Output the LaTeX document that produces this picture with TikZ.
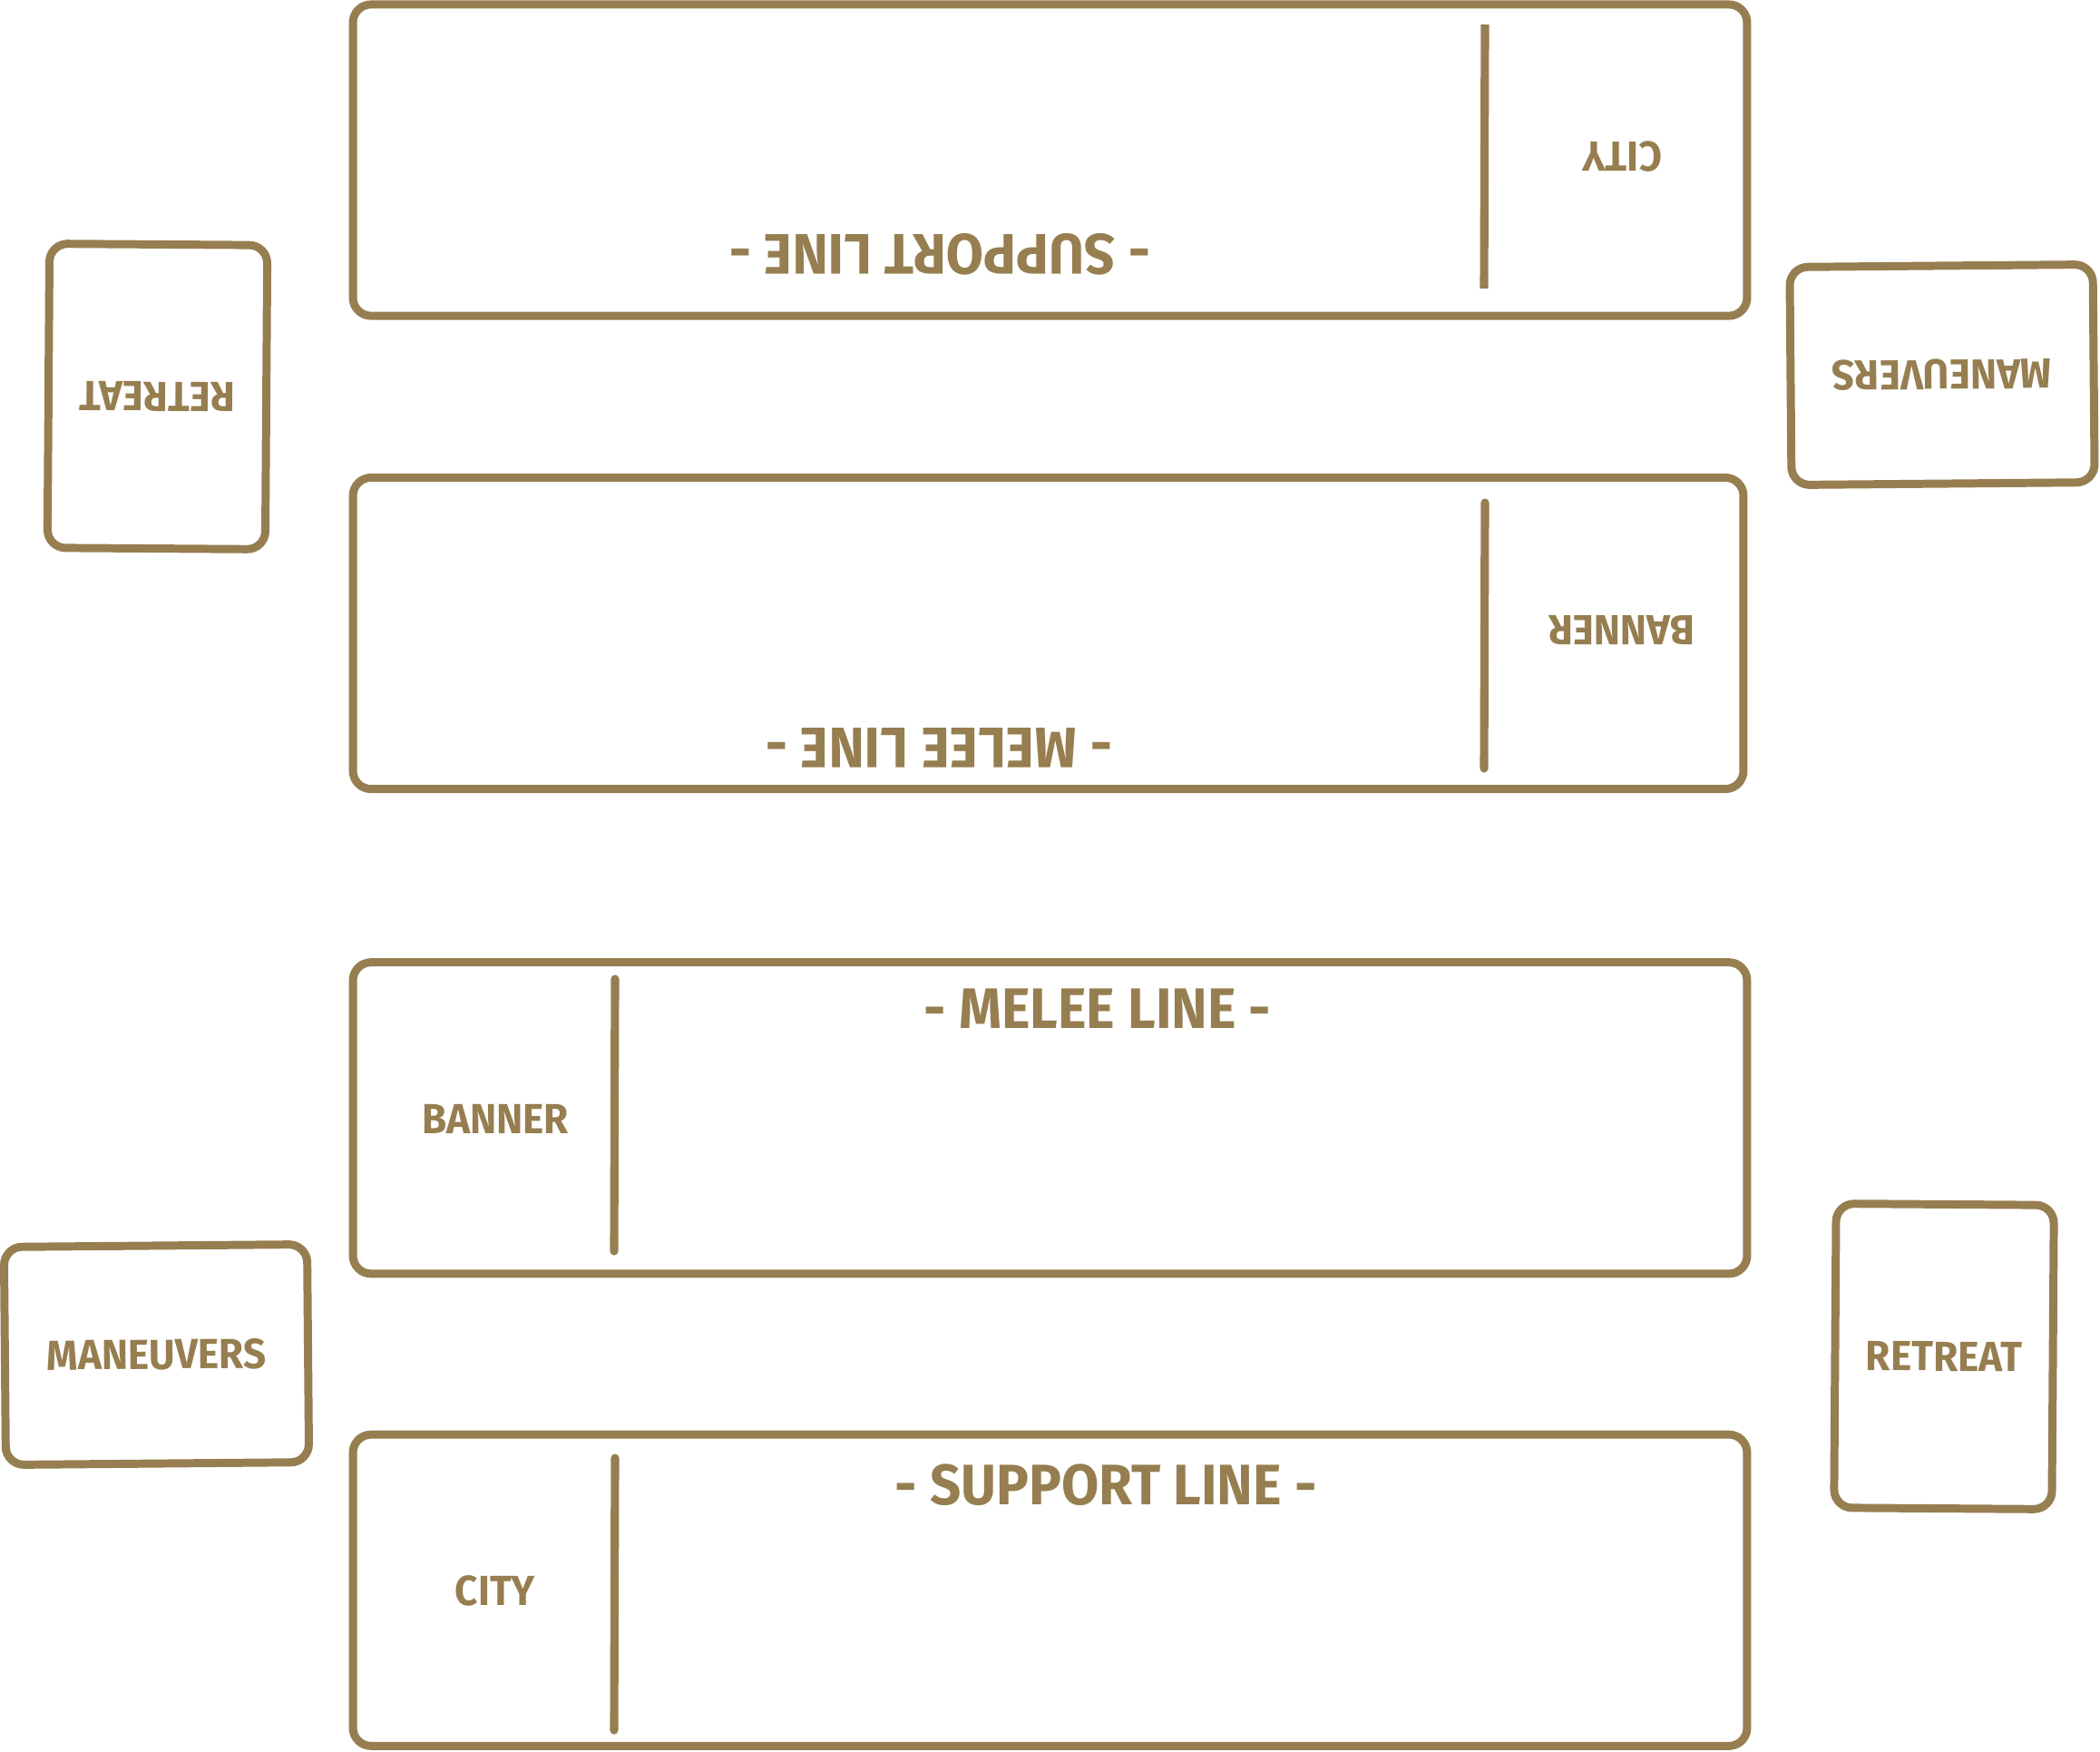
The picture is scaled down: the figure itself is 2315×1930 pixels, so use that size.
\documentclass[tikz,border=0pt]{standalone}
\usepackage{fontspec}
\setmainfont{Fira Sans}[FakeStretch=0.95]
\usetikzlibrary{positioning,calc}
\definecolor{brass}{RGB}{150,126,80}

\begin{document}
\begin{tikzpicture}[x=0.01cm,y=-0.01cm,line width=2.55pt,brass]
\tikzstyle{every node}=[font=\bfseries\fontsize{13.2}{14}\selectfont,text=brass,inner sep=0pt]
\tikzstyle{lineboard}=[draw,rounded corners=0.2cm,minimum width=15.36cm,minimum height=3.43cm]
\tikzstyle{linetitle}=[font=\bfseries\fontsize{17.9}{20}\selectfont]
\tikzstyle{card}=[draw,rounded corners=0.2cm,minimum width=2.4cm,minimum height=3.35cm]
\tikzstyle{landscape}=[minimum width=3.34cm,minimum height=2.4cm]
\tikzstyle{divider}=[line width=2.6pt,line cap=round]
\useasboundingbox (0,0) rectangle (2315,1930);
% the far side, turned round
\node[lineboard] (support') at (1157.5,176.5) {};
\node[lineboard,minimum width=15.32cm] (melee') at (1155.5,698) {};
\draw[divider,line cap=butt] (1637,27) -- (1636,318);
\draw[divider] (1637,554) -- (1636,847);
\node[rotate=180] (city') at (1788,173) {CITY};
\node[rotate=180] (banner') at (1788,695) {BANNER};
\node[linetitle,rotate=180] at (1036,280.5) {- SUPPORT LINE -};
\node[linetitle,rotate=180] at (1035,824) {- MELEE LINE -};
\node[card,rotate=179.6] (retreat') at (173.5,437) {RETREAT};
\node[card,landscape,rotate=180.5] (maneuvers') at (2141,413) {MANEUVERS};
% the near side
\node[lineboard] (melee) at (1157.5,1232.25) {};
\node[lineboard] (support) at (1157.5,1752.75) {};
\draw[divider] (678,1079) -- (677,1379);
\draw[divider] (678,1607) -- (677,1907);
\node (banner) at (546,1233) {BANNER};
\node (city) at (546,1753) {CITY};
\node[linetitle] at (1210,1112) {- MELEE LINE -};
\node[linetitle] at (1219,1637) {- SUPPORT LINE -};
\node[card,landscape,rotate=0.5] (maneuvers) at (172.5,1493) {MANEUVERS};
\node[card,rotate=-0.4] (retreat) at (2143,1495) {RETREAT};
\end{tikzpicture}
\end{document}
